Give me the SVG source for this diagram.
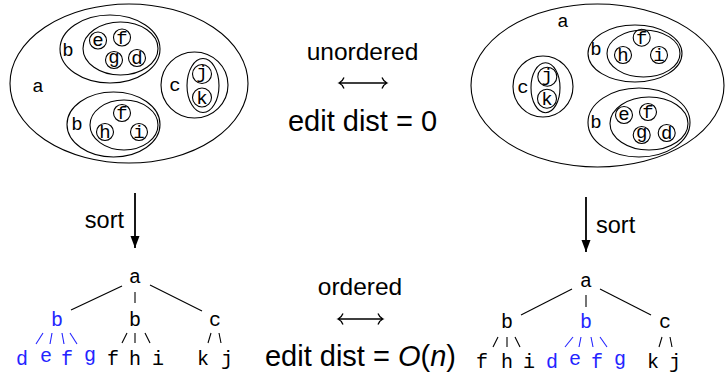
<svg xmlns="http://www.w3.org/2000/svg" width="726" height="376" viewBox="0 0 726 376">
<defs>
<style>
.sh{fill:none;stroke:#000;stroke-width:1.1}
.m{font-family:"Liberation Mono","DejaVu Sans Mono",monospace;font-size:19px;fill:#000;text-anchor:middle}
.t{font-family:"Liberation Mono","DejaVu Sans Mono",monospace;font-size:20px;fill:#000;text-anchor:middle}
.bl{fill:#2424ff}
.s{font-family:"Liberation Sans",Arial,sans-serif;fill:#000}
.e{stroke:#000;stroke-width:1.1;fill:none}
.eb{stroke:#2424ff;stroke-width:1.1;fill:none}
.lr{fill:none;stroke:#000;stroke-width:1.3}
.ar{stroke:#000;stroke-width:1.8}
</style>
<marker id="head" markerUnits="userSpaceOnUse" markerWidth="13" markerHeight="10" refX="12" refY="4.5" orient="auto">
<path d="M0,0 L12,4.5 L0,9 Z" fill="#000"/>
</marker>
</defs>

<!-- Left nested sets -->
<g id="L-a"><ellipse class="sh" cx="129" cy="83.5" rx="119" ry="79.5"/><text class="m" x="38" y="92">a</text></g>
<g id="L-b1"><ellipse class="sh" cx="110" cy="49" rx="50" ry="34"/><ellipse class="sh" cx="120.5" cy="48.5" rx="37.5" ry="26.5"/><text class="m" x="68" y="56">b</text></g>
<g id="L-e1"><circle class="sh" cx="98" cy="40.5" r="8.5"/><text class="m" x="98" y="45.5">e</text></g>
<g id="L-f1"><circle class="sh" cx="122" cy="37.5" r="8.5"/><text class="m" x="122" y="43.5">f</text></g>
<g id="L-g1"><circle class="sh" cx="114" cy="60" r="8.5"/><text class="m" x="114" y="63">g</text></g>
<g id="L-d1"><circle class="sh" cx="137" cy="58" r="8.5"/><text class="m" x="137" y="64">d</text></g>
<g id="L-b2"><ellipse class="sh" cx="113.5" cy="124.5" rx="46.5" ry="32.5"/><ellipse class="sh" cx="124" cy="125" rx="34" ry="25"/><text class="m" x="77" y="130">b</text></g>
<g id="L-f2"><circle class="sh" cx="122" cy="113" r="8.5"/><text class="m" x="122" y="119">f</text></g>
<g id="L-h2"><circle class="sh" cx="105" cy="132" r="8.5"/><text class="m" x="105" y="138">h</text></g>
<g id="L-i2"><circle class="sh" cx="139" cy="132" r="8.5"/><text class="m" x="139" y="138">i</text></g>
<g id="L-c"><ellipse class="sh" cx="194.5" cy="85" rx="33.5" ry="33"/><ellipse class="sh" cx="203" cy="85.5" rx="16" ry="27"/><text class="m" x="175" y="91">c</text></g>
<g id="L-j"><circle class="sh" cx="202" cy="74" r="9.5"/><text class="m" x="202" y="78">j</text></g>
<g id="L-k"><circle class="sh" cx="202" cy="97.5" r="9.5"/><text class="m" x="202" y="103.5">k</text></g>

<!-- Right nested sets -->
<g id="R-a"><ellipse class="sh" cx="597.5" cy="85.5" rx="126.5" ry="81.5"/><text class="m" x="563" y="27">a</text></g>
<g id="R-b1"><ellipse class="sh" cx="635" cy="53.5" rx="47" ry="28.5"/><ellipse class="sh" cx="643.5" cy="53.5" rx="36.5" ry="23.5"/><text class="m" x="596" y="55">b</text></g>
<g id="R-f1"><circle class="sh" cx="641.7" cy="37.7" r="8.5"/><text class="m" x="641.7" y="43.7">f</text></g>
<g id="R-h1"><circle class="sh" cx="623" cy="55" r="8.5"/><text class="m" x="623" y="61">h</text></g>
<g id="R-i1"><circle class="sh" cx="659" cy="55" r="8.5"/><text class="m" x="659" y="61">i</text></g>
<g id="R-c"><ellipse class="sh" cx="543" cy="86.5" rx="30" ry="30.5"/><ellipse class="sh" cx="545.5" cy="87.7" rx="14.5" ry="25"/><text class="m" x="523" y="93">c</text></g>
<g id="R-j"><circle class="sh" cx="547.3" cy="76.7" r="9.5"/><text class="m" x="547.3" y="80.7">j</text></g>
<g id="R-k"><circle class="sh" cx="547" cy="98.7" r="9.5"/><text class="m" x="547" y="104.7">k</text></g>
<g id="R-b2"><ellipse class="sh" cx="639" cy="122.5" rx="51" ry="34.5"/><ellipse class="sh" cx="649" cy="123.5" rx="39" ry="26.5"/><text class="m" x="596" y="128">b</text></g>
<g id="R-e2"><circle class="sh" cx="624" cy="115" r="8.5"/><text class="m" x="624" y="120">e</text></g>
<g id="R-f2"><circle class="sh" cx="648" cy="112" r="8.5"/><text class="m" x="648" y="118">f</text></g>
<g id="R-g2"><circle class="sh" cx="641.7" cy="135" r="8.5"/><text class="m" x="641.7" y="138">g</text></g>
<g id="R-d2"><circle class="sh" cx="666.7" cy="133" r="8.5"/><text class="m" x="666.7" y="139">d</text></g>

<!-- Middle labels -->
<g id="mid-top">
<text class="s" x="362.5" y="60" font-size="24.5" text-anchor="middle">unordered</text>
<path class="lr" d="M339,83 H387 M344,77.5 Q342.5,81.5 339,83 Q342.5,84.5 344,88.5 M382,77.5 Q383.5,81.5 387,83 Q383.5,84.5 382,88.5"/>
<text class="s" x="362.5" y="131" font-size="29" text-anchor="middle">edit dist = 0</text>
</g>
<g id="mid-bottom">
<text class="s" x="360" y="295" font-size="24.5" text-anchor="middle">ordered</text>
<path class="lr" d="M338,319 H383 M343,313.5 Q341.5,317.5 338,319 Q341.5,320.5 343,324.5 M378,313.5 Q379.5,317.5 383,319 Q379.5,320.5 378,324.5"/>
<text class="s" x="360.5" y="366" font-size="29" text-anchor="middle">edit dist = <tspan font-style="italic">O</tspan>(<tspan font-style="italic">n</tspan>)</text>
</g>

<!-- Sort connectors -->
<g id="connectors">
<line class="ar" x1="135" y1="193" x2="135" y2="248" marker-end="url(#head)"/>
<text class="s" x="124" y="228" font-size="23.5" text-anchor="end">sort</text>
<line class="ar" x1="586" y1="197" x2="586" y2="252" marker-end="url(#head)"/>
<text class="s" x="596" y="233" font-size="23.5">sort</text>
<!-- left tree edges -->
<line class="e" x1="122" y1="286" x2="71" y2="310"/>
<line class="e" x1="135" y1="292" x2="135" y2="303"/>
<line class="e" x1="150" y1="285" x2="202" y2="311"/>
<line class="eb" x1="43" y1="333" x2="36" y2="344"/>
<line class="eb" x1="52" y1="333" x2="50" y2="344"/>
<line class="eb" x1="62" y1="333" x2="64" y2="344"/>
<line class="eb" x1="70" y1="333" x2="77" y2="344"/>
<line class="e" x1="127" y1="333" x2="122" y2="343"/>
<line class="e" x1="135" y1="333" x2="135" y2="343"/>
<line class="e" x1="145" y1="333" x2="150" y2="343"/>
<line class="e" x1="211" y1="333" x2="208" y2="343"/>
<line class="e" x1="219" y1="333" x2="221" y2="343"/>
<!-- right tree edges -->
<line class="e" x1="572" y1="289" x2="521" y2="315"/>
<line class="e" x1="586" y1="295" x2="586" y2="307"/>
<line class="e" x1="600" y1="289" x2="651" y2="315"/>
<line class="e" x1="498" y1="337" x2="493" y2="347"/>
<line class="e" x1="507" y1="337" x2="507" y2="347"/>
<line class="e" x1="515" y1="337" x2="520" y2="347"/>
<line class="eb" x1="573" y1="337" x2="565" y2="347"/>
<line class="eb" x1="581" y1="337" x2="579" y2="347"/>
<line class="eb" x1="591" y1="337" x2="593" y2="347"/>
<line class="eb" x1="600" y1="337" x2="607" y2="347"/>
<line class="e" x1="662" y1="337" x2="659" y2="347"/>
<line class="e" x1="670" y1="337" x2="672" y2="347"/>
</g>

<!-- Left tree nodes -->
<g id="LT-a"><text class="t" x="135" y="283">a</text></g>
<g id="LT-b1"><text class="t bl" x="57" y="326">b</text></g>
<g id="LT-b2"><text class="t" x="135" y="326">b</text></g>
<g id="LT-c"><text class="t" x="215" y="326">c</text></g>
<g id="LT-d"><text class="t bl" x="22" y="365">d</text></g>
<g id="LT-e"><text class="t bl" x="46" y="361.5">e</text></g>
<g id="LT-f1"><text class="t bl" x="67" y="365">f</text></g>
<g id="LT-g"><text class="t bl" x="90" y="361">g</text></g>
<g id="LT-f2"><text class="t" x="113" y="365">f</text></g>
<g id="LT-h"><text class="t" x="135" y="365">h</text></g>
<g id="LT-i"><text class="t" x="158" y="365">i</text></g>
<g id="LT-k"><text class="t" x="203" y="365">k</text></g>
<g id="LT-j"><text class="t" x="227" y="365">j</text></g>

<!-- Right tree nodes -->
<g id="RT-a"><text class="t" x="586" y="287">a</text></g>
<g id="RT-b1"><text class="t" x="507" y="328">b</text></g>
<g id="RT-b2"><text class="t bl" x="586" y="328">b</text></g>
<g id="RT-c"><text class="t" x="665" y="328">c</text></g>
<g id="RT-f1"><text class="t" x="482" y="368">f</text></g>
<g id="RT-h"><text class="t" x="507" y="368">h</text></g>
<g id="RT-i"><text class="t" x="529" y="368">i</text></g>
<g id="RT-d"><text class="t bl" x="552" y="368">d</text></g>
<g id="RT-e"><text class="t bl" x="575" y="364.5">e</text></g>
<g id="RT-f2"><text class="t bl" x="597" y="368">f</text></g>
<g id="RT-g"><text class="t bl" x="620" y="364.5">g</text></g>
<g id="RT-k"><text class="t" x="653" y="368">k</text></g>
<g id="RT-j"><text class="t" x="675" y="368">j</text></g>
</svg>
